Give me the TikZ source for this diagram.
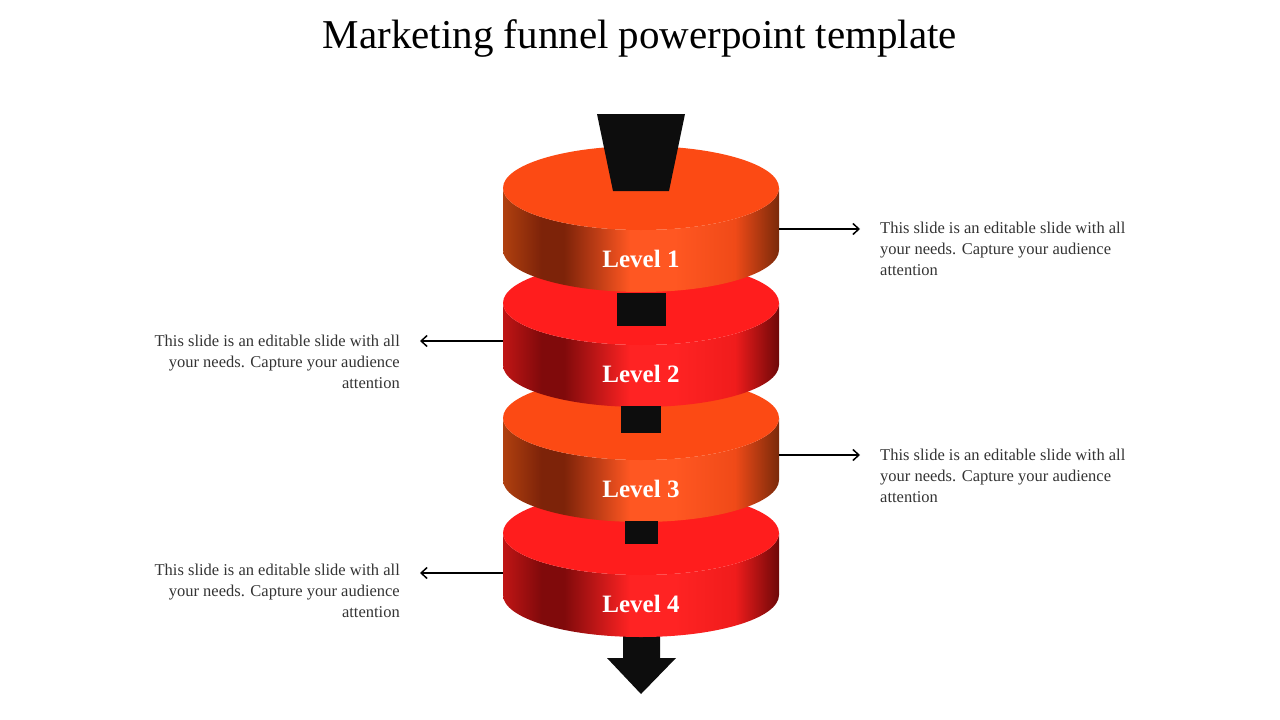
\documentclass[tikz,border=0pt]{standalone}
\usepackage{fontspec}
\setmainfont{Liberation Serif}
\usetikzlibrary{arrows.meta}

\definecolor{orangetop}{HTML}{FC4A14}
\definecolor{redtop}{HTML}{FF1D1D}
\definecolor{darkfill}{HTML}{0D0D0D}
\definecolor{notegray}{HTML}{333333}
% side colours, orange discs
\definecolor{oa}{HTML}{B0400F}
\definecolor{ob}{HTML}{7D2309}
\definecolor{od}{HTML}{FF5722}
\definecolor{oe}{HTML}{F04A18}
\definecolor{of}{HTML}{7A2A0A}
% side colours, red discs
\definecolor{ra}{HTML}{C01515}
\definecolor{rb}{HTML}{800A0B}
\definecolor{rd}{HTML}{FF2323}
\definecolor{re}{HTML}{F01C1C}
\definecolor{rf}{HTML}{6E0808}

\pgfdeclarehorizontalshading{orangeside}{100bp}{color(0bp)=(oa); color(25bp)=(oa); color(32bp)=(ob); color(36bp)=(ob); color(48bp)=(od); color(56bp)=(od); color(67bp)=(oe); color(75bp)=(of); color(100bp)=(of)}
\pgfdeclarehorizontalshading{redside}{100bp}{color(0bp)=(ra); color(25bp)=(ra); color(32bp)=(rb); color(36bp)=(rb); color(48bp)=(rd); color(56bp)=(rd); color(67bp)=(re); color(75bp)=(rf); color(100bp)=(rf)}

\tikzset{
  levellabel/.style={text=white, font=\fontsize{25}{29}\selectfont\bfseries, inner sep=0pt},
  note/.style={text=notegray, font=\fontsize{16.5}{21}\selectfont, inner sep=0pt},
  pointer/.style={-{Straight Barb[length=6pt,width=11pt]}, line width=1.5pt, shorten >=20pt},
}

\begin{document}
\begin{tikzpicture}[x=1pt, y=-1pt]
\useasboundingbox (0,0) rectangle (1280,720);

\node (title) at (640,38) {\fontsize{41}{45}\selectfont Marketing funnel powerpoint template};

% arrow out of the funnel
\fill[darkfill] (623,620) -- (623,658) -- (607,658) -- (641,694) -- (676,658) -- (660,658) -- (660,620) -- cycle;

% discs, bottom one first
\foreach \y/\col/\shd/\n in {533/redtop/redside/4, 418/orangetop/orangeside/3, 303/redtop/redside/2, 188/orangetop/orangeside/1}{
  \shade[shading=\shd] (503,\y) -- (503,\y+62) arc[start angle=180, end angle=0, x radius=138, y radius=42]
    -- (779,\y) arc[start angle=0, end angle=180, x radius=138, y radius=42] -- cycle;
  \fill[\col] (641,\y) ellipse[x radius=138, y radius=42];
  \node[levellabel] (level\n) at (641,\y+71) {Level \n};
}

% black pieces on the tops
\fill[darkfill] (617,293) rectangle (666,326);
\fill[darkfill] (621,406) rectangle (661,433);
\fill[darkfill] (625,521) rectangle (658,544);
\fill[darkfill] (597,114) -- (685,114) -- (669,191) -- (613,191) -- cycle;

% notes
\node[note, anchor=west, align=left] (note1) at (880,249) {This slide is an editable slide with all\\your needs. Capture your audience\\attention};
\node[note, anchor=east, align=right] (note2) at (400,362) {This slide is an editable slide with all\\your needs. Capture your audience\\attention};
\node[note, anchor=west, align=left] (note3) at (880,476) {This slide is an editable slide with all\\your needs. Capture your audience\\attention};
\node[note, anchor=east, align=right] (note4) at (400,591) {This slide is an editable slide with all\\your needs. Capture your audience\\attention};

\coordinate (from1) at (779,229);
\coordinate (from2) at (503,341);
\coordinate (from3) at (779,455);
\coordinate (from4) at (503,573);
\draw[pointer] (from1) -- (from1 -| note1.west);
\draw[pointer] (from2) -- (from2 -| note2.east);
\draw[pointer] (from3) -- (from3 -| note3.west);
\draw[pointer] (from4) -- (from4 -| note4.east);
\end{tikzpicture}
\end{document}
